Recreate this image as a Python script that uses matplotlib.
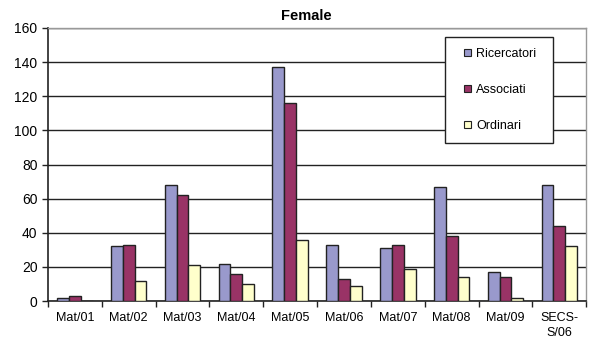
import numpy as np
from matplotlib import pyplot as plt
from matplotlib.patches import Patch, Rectangle
from matplotlib.legend_handler import HandlerPatch

categories = ['Mat/01', 'Mat/02', 'Mat/03', 'Mat/04', 'Mat/05',
              'Mat/06', 'Mat/07', 'Mat/08', 'Mat/09', 'SECS-\nS/06']
ricercatori = [2, 32, 68, 22, 137, 33, 31, 67, 17, 68]
associati = [3, 33, 62, 16, 116, 13, 33, 38, 14, 44]
ordinari = [0, 12, 21, 10, 36, 9, 19, 14, 2, 32]

series = [('Ricercatori', ricercatori, '#9999cc'),
          ('Associati', associati, '#993366'),
          ('Ordinari', ordinari, '#ffffcc')]

plt.rcParams['font.family'] = ['Liberation Sans', 'DejaVu Sans']


def small_square(legend, orig_handle, xdescent, ydescent, width, height, fontsize):
    # square marker pushed to the right end of the handle box
    s = height
    return Rectangle((-xdescent + width - s, -ydescent), s, s)


fig = plt.figure(figsize=(6, 3.41), dpi=100)
ax = fig.add_axes([0.08, 0.117, 0.897, 0.801])

x = np.arange(len(categories))
w = 0.22
for i, (name, vals, col) in enumerate(series):
    ax.bar(x + (i - 1) * w, vals, w, color=col, edgecolor='#222222',
           linewidth=1.0, zorder=3)

ax.set_xlim(-0.5, len(categories) - 0.5)
ax.set_ylim(0, 160)
ax.set_yticks(range(0, 161, 20))
ax.yaxis.grid(True, color='#222222', linewidth=1.0, zorder=0)
ax.set_axisbelow(True)

ax.set_xticks(x)
ax.set_xticklabels(categories, fontsize=9, linespacing=1.3)
ax.set_xticks(np.arange(-0.5, len(categories), 1), minor=True)
ax.tick_params(axis='x', which='major', length=0, pad=8)
ax.tick_params(axis='x', which='minor', length=4, width=1.0, color='#222222')
ax.tick_params(axis='y', labelsize=10, length=4, width=1.0, color='#222222')

for s in ['left', 'bottom']:
    ax.spines[s].set_color('#222222')
    ax.spines[s].set_linewidth(1.2)
for s in ['top', 'right']:
    ax.spines[s].set_color('#999999')
    ax.spines[s].set_linewidth(1.0)

fig.text(0.51, 0.953, 'Female', ha='center', va='center',
         fontsize=10.5, fontweight='bold')

handles = [Patch(facecolor=col, edgecolor='#222222', linewidth=0.8, label=name)
           for name, vals, col in series]
leg = ax.legend(handles=handles, loc='upper left',
                bbox_to_anchor=(0.738, 0.5, 0.201, 0.467), mode='expand',
                borderaxespad=0, fontsize=9,
                handler_map={Patch: HandlerPatch(patch_func=small_square)},
                handlelength=1.16, handleheight=0.45, handletextpad=0.4,
                labelspacing=1.9, borderpad=0.9, fancybox=False,
                framealpha=1, edgecolor='#222222')
leg.get_frame().set_linewidth(1.0)
leg.set_zorder(5)

fig.savefig('out.png', dpi=100)
